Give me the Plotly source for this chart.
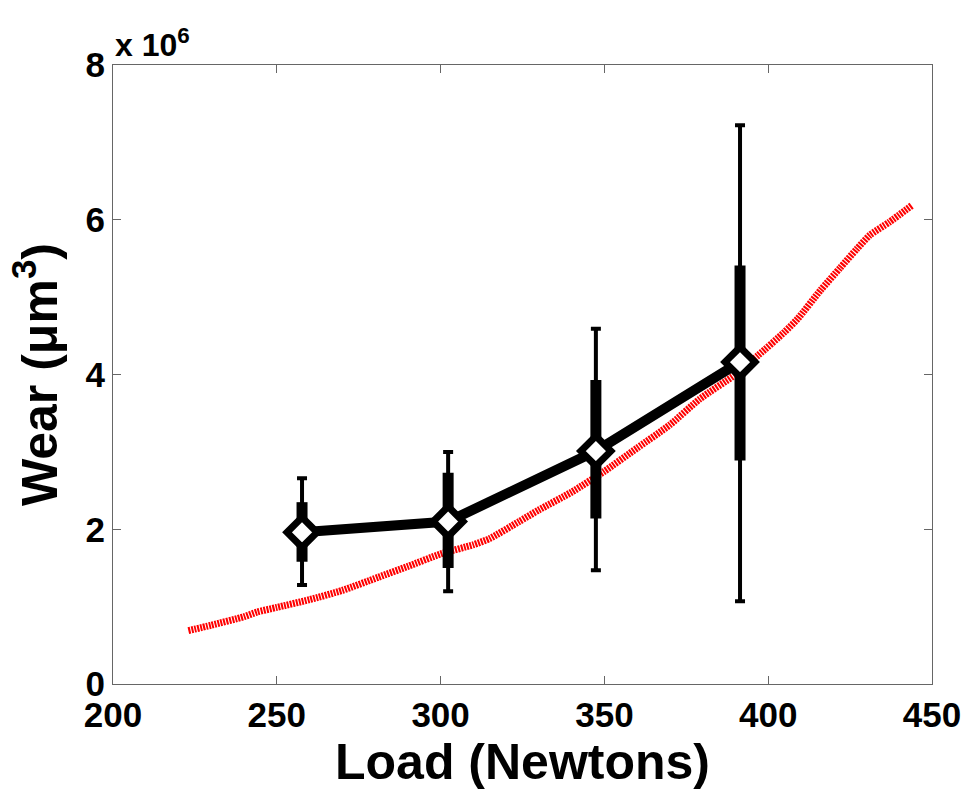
import plotly.graph_objects as go

# Model curve (red)
model_load = [223, 230, 240, 244, 250, 260, 270, 281, 290, 300, 310, 315, 324, 330, 340,
              350, 360, 370, 379, 390, 397, 405, 409, 416, 422, 427, 431, 437, 444]
model_wear = [0.69, 0.76, 0.87, 0.93, 0.99, 1.09, 1.21, 1.38, 1.52, 1.68, 1.80, 1.88, 2.10, 2.25, 2.48,
              2.75, 3.05, 3.35, 3.68, 4.00, 4.25, 4.55, 4.72, 5.09, 5.38, 5.62, 5.80, 5.97, 6.19]

# Measurements (black), wear in units of 10^6 um^3
meas_load = [257.7, 302.3, 347.4, 391.4]
meas_wear = [1.96, 2.10, 3.01, 4.16]
range_hi = [2.66, 3.00, 4.59, 7.22]
range_lo = [1.28, 1.20, 1.47, 1.07]
inner_hi = [2.35, 2.73, 3.93, 5.41]
inner_lo = [1.58, 1.50, 2.14, 2.89]

err_plus = [h - m for h, m in zip(range_hi, meas_wear)]
err_minus = [m - l for m, l in zip(meas_wear, range_lo)]
in_plus = [h - m for h, m in zip(inner_hi, meas_wear)]
in_minus = [m - l for m, l in zip(meas_wear, inner_lo)]

FONT = "Liberation Sans, Arial, Helvetica, sans-serif"

fig = go.Figure()
fig.add_trace(go.Scatter(
    x=model_load, y=model_wear, mode="lines", line_shape="spline",
    line=dict(color="#ff0000", width=7, dash="2px,1px", smoothing=0.6),
    hoverinfo="skip", showlegend=False))
# thin full-range error bars with caps
fig.add_trace(go.Scatter(
    x=meas_load, y=meas_wear, mode="markers",
    marker=dict(size=1, color="rgba(0,0,0,0)"),
    error_y=dict(type="data", symmetric=False, array=err_plus, arrayminus=err_minus,
                 color="black", thickness=4, width=5),
    showlegend=False))
# thick inner bars
fig.add_trace(go.Scatter(
    x=meas_load, y=meas_wear, mode="markers",
    marker=dict(size=1, color="rgba(0,0,0,0)"),
    error_y=dict(type="data", symmetric=False, array=in_plus, arrayminus=in_minus,
                 color="black", thickness=11, width=0),
    showlegend=False))
# connecting line and diamond markers
fig.add_trace(go.Scatter(
    x=meas_load, y=meas_wear, mode="lines+markers",
    line=dict(color="black", width=10),
    marker=dict(symbol="diamond", size=23, color="white",
                line=dict(color="black", width=7)),
    showlegend=False))

axis_common = dict(
    showgrid=False, zeroline=False, showline=True, linecolor="#666666", linewidth=1,
    mirror="ticks", ticks="inside", ticklen=8, tickcolor="#666666", tickwidth=1,
    automargin=False,
    tickfont=dict(family=FONT, size=35, color="black", weight="bold"),
)

fig.update_xaxes(range=[200, 450], tickvals=[200, 250, 300, 350, 400, 450],
                 title=dict(text="Load (Newtons)", standoff=6,
                            font=dict(family=FONT, size=50, color="black", weight="bold")),
                 **axis_common)
fig.update_yaxes(range=[0, 8], tickvals=[0, 2, 4, 6, 8],
                 title=dict(text="Wear (μm<sup>3</sup>)", standoff=12,
                            font=dict(family=FONT, size=50, color="black", weight="bold")),
                 **axis_common)

fig.add_annotation(xref="paper", yref="paper", x=0, y=1, xanchor="left", yanchor="bottom",
                   yshift=0, showarrow=False,
                   text="x 10<sup>6</sup>",
                   font=dict(family=FONT, size=32, color="black", weight="bold"))

fig.update_layout(
    width=966, height=794,
    margin=dict(l=113, r=34, t=65, b=110),
    plot_bgcolor="white", paper_bgcolor="white",
)

fig.write_html("out.html")
